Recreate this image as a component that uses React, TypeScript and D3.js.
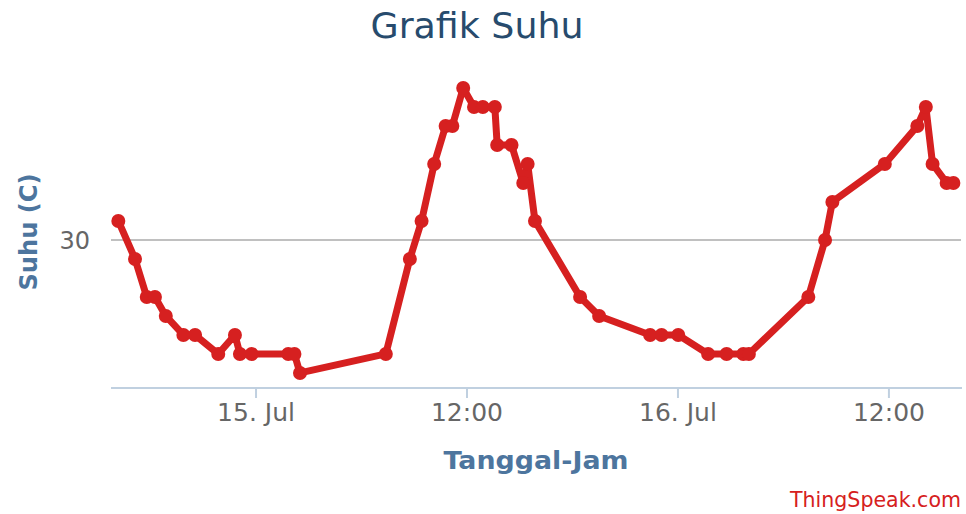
import React from "react";
import * as d3 from "d3";

const times: string[] = [
  "2015-07-14 16:10", "2015-07-14 17:07", "2015-07-14 17:47", "2015-07-14 18:15",
  "2015-07-14 18:52", "2015-07-14 19:52", "2015-07-14 20:32", "2015-07-14 21:51",
  "2015-07-14 22:48", "2015-07-14 23:05", "2015-07-14 23:45", "2015-07-15 01:50",
  "2015-07-15 02:11", "2015-07-15 02:30", "2015-07-15 07:23", "2015-07-15 08:45",
  "2015-07-15 09:25", "2015-07-15 10:08", "2015-07-15 10:47", "2015-07-15 11:10",
  "2015-07-15 11:47", "2015-07-15 12:24", "2015-07-15 12:54", "2015-07-15 13:35",
  "2015-07-15 13:43", "2015-07-15 14:32", "2015-07-15 15:12", "2015-07-15 15:27",
  "2015-07-15 15:52", "2015-07-15 18:26", "2015-07-15 19:31", "2015-07-15 22:25",
  "2015-07-15 23:04", "2015-07-16 00:01", "2015-07-16 01:43", "2015-07-16 02:46",
  "2015-07-16 03:43", "2015-07-16 04:02", "2015-07-16 07:25", "2015-07-16 08:22",
  "2015-07-16 08:47", "2015-07-16 11:46", "2015-07-16 13:37", "2015-07-16 14:06",
  "2015-07-16 14:29", "2015-07-16 15:17", "2015-07-16 15:40",
];

const suhu: number[] = [
  31, 29, 27, 27,
  26, 25, 25, 24,
  25, 24, 24, 24,
  24, 23, 24, 29,
  31, 34, 36, 36,
  38, 37, 37, 37,
  35, 35, 33, 34,
  31, 27, 26, 25,
  25, 25, 24, 24,
  24, 24, 27, 30,
  32, 34, 36, 37,
  34, 33, 33,
];

const xDomain: string[] = ["2015-07-14 15:45", "2015-07-16 16:06"];
const yDomain: number[] = [22.26, 39.47];
const yTicks: number[] = [30];

const titleText = "Grafik Suhu";
const yTitle = "Suhu (C)";
const xTitle = "Tanggal-Jam";
const creditText = "ThingSpeak.com";

const W = 966;
const H = 514;
const plotLeft = 111;
const plotRight = 961;
const plotTop = 60;
const plotBottom = 387;
const FONT = "'DejaVu Sans', Verdana, sans-serif";
const RED = "#d62020";

export default function App() {
  const parse = d3.timeParse("%Y-%m-%d %H:%M");
  const data = times.map((t, i) => ({ t: parse(t) as Date, v: suhu[i] }));
  const x = d3
    .scaleTime()
    .domain(xDomain.map((d) => parse(d) as Date))
    .range([plotLeft, plotRight]);
  const y = d3.scaleLinear().domain(yDomain).range([plotBottom, plotTop]);
  const xTicks = x.ticks(d3.timeHour.every(12) as any);
  const fmt = (d: Date) =>
    d.getHours() === 0 ? d3.timeFormat("%-d. %b")(d) : d3.timeFormat("%H:%M")(d);
  const line = d3
    .line<{ t: Date; v: number }>()
    .x((d) => x(d.t))
    .y((d) => y(d.v));

  return (
    <svg
      width={W}
      height={H}
      style={{ position: "absolute", left: 0, top: 0, background: "#fff" }}
      fontFamily={FONT}
    >
      <rect x={0} y={0} width={W} height={H} fill="#fff" />
      <text
        x={477}
        y={38}
        textAnchor="middle"
        fontSize={36}
        fill="#274b6d"
        textLength={213}
        lengthAdjust="spacingAndGlyphs"
      >
        {titleText}
      </text>
      {yTicks.map((t) => (
        <g key={t}>
          <line
            x1={plotLeft}
            x2={plotRight}
            y1={y(t)}
            y2={y(t)}
            stroke="#c0c0c0"
            strokeWidth={2}
          />
          <text x={90} y={y(t) + 9} textAnchor="end" fontSize={24} fill="#666">
            {t}
          </text>
        </g>
      ))}
      <line
        x1={plotLeft}
        x2={plotRight + 1}
        y1={plotBottom + 1}
        y2={plotBottom + 1}
        stroke="#c0d0e0"
        strokeWidth={2}
      />
      {xTicks.map((t, i) => (
        <g key={i}>
          <line
            x1={x(t)}
            x2={x(t)}
            y1={plotBottom + 1}
            y2={plotBottom + 11}
            stroke="#c0d0e0"
            strokeWidth={2}
          />
          <text
            x={x(t)}
            y={421}
            textAnchor="middle"
            fontSize={25}
            fill="#666"
          >
            {fmt(t)}
          </text>
        </g>
      ))}
      <text
        transform="translate(37,232) rotate(-90)"
        textAnchor="middle"
        fontSize={24}
        fontWeight="bold"
        fill="#4d759e"
        textLength={117}
        lengthAdjust="spacingAndGlyphs"
      >
        {yTitle}
      </text>
      <text
        x={536}
        y={469}
        textAnchor="middle"
        fontSize={25}
        fontWeight="bold"
        fill="#4d759e"
        textLength={185}
        lengthAdjust="spacingAndGlyphs"
      >
        {xTitle}
      </text>
      <path
        d={line(data) || ""}
        fill="none"
        stroke={RED}
        strokeWidth={7}
        strokeLinejoin="round"
        strokeLinecap="round"
      />
      {data.map((d, i) => (
        <circle key={i} cx={x(d.t)} cy={y(d.v)} r={7} fill={RED} />
      ))}
      <text
        x={961}
        y={507}
        textAnchor="end"
        fontSize={20.5}
        fill={RED}
        textLength={171}
        lengthAdjust="spacingAndGlyphs"
      >
        {creditText}
      </text>
    </svg>
  );
}
